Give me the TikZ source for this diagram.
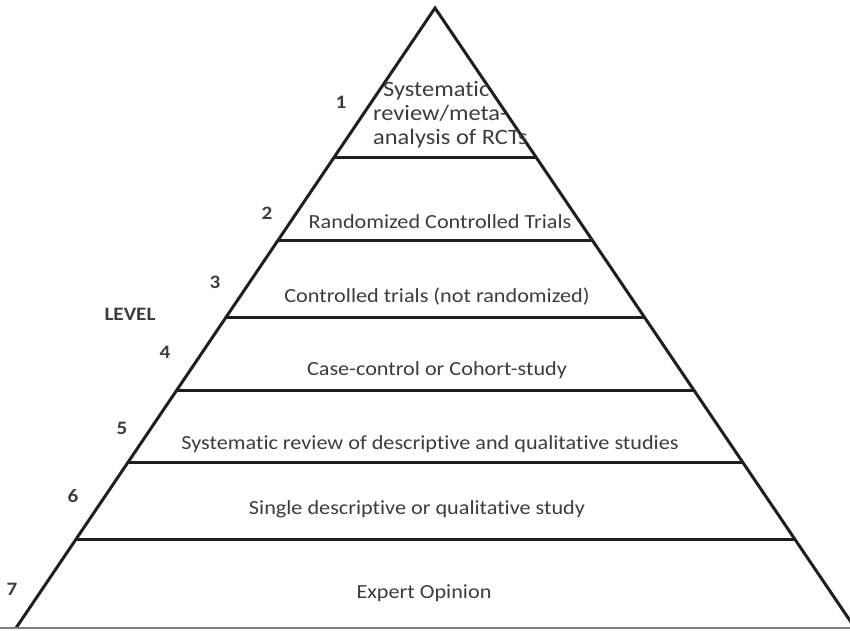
\documentclass[tikz,border=0pt]{standalone}
\usepackage{fontspec}
\setmainfont{Carlito}[FakeStretch=1.11, Ligatures=NoCommon]
\usetikzlibrary{calc}
\usetikzlibrary{positioning}
\definecolor{inkgrey}{HTML}{3C3C3C}
\tikzset{tierline/.style={line width=3pt,
                        draw=black!88,
                        line cap=butt
                        },
        tiertext/.style={text=inkgrey,
                        inner sep=0pt,
                        align=center,
                        font=\fontsize{20}{23}\selectfont
        },
        levelnum/.style={text=inkgrey,
                        inner sep=0pt,
                        font=\fontsize{19}{23}\selectfont\bfseries
        },
}

\begin{document}
\begin{tikzpicture}
    [x=1pt,y=-1pt]
    \useasboundingbox (0,0) rectangle (850,630);

    % PYRAMID OUTLINE
    \coordinate (apex) at (435,8);
    \coordinate (baseL) at (16,628);
    \coordinate (baseR) at (855,628);

    \draw[tierline, line join=miter] (baseL) -- (apex) -- (baseR);
    \draw[gray, line width=2pt] (0,628) -- (850,628);

    % TIER DIVIDERS
    \foreach \t/\n in {0.2419/A, 0.3742/B, 0.4984/C, 0.6177/D, 0.7323/E, 0.8565/F} {
        \coordinate (left\n) at ($(apex)!\t!(baseL)$);
        \coordinate (right\n) at ($(apex)!\t!(baseR)$);
        \draw[tierline] (left\n) -- (right\n);
    }

    % TIER TEXTS
    \node[tiertext, align=left, anchor=west, font=\fontsize{22}{24}\selectfont] (tierA) at (373,115)
        {\hspace*{10pt}Systematic\\review/meta-\\analysis of RCTs};
    \node[tiertext] (tierB) at (440,222) {Randomized Controlled Trials};
    \node[tiertext] (tierC) at (437,297) {Controlled trials (not randomized)};
    \node[tiertext] (tierD) at (437,370) {Case-control or Cohort-study};
    \node[tiertext] (tierE) at (430,444) {Systematic review of descriptive and qualitative studies};
    \node[tiertext] (tierF) at (417,509) {Single descriptive or qualitative study};
    \node[tiertext] (tierG) at (424,593) {Expert Opinion};

    % LEVEL NUMBERS
    \node[levelnum] (levelword) at (130,314) {LEVEL};
    \node[levelnum] (numA) at (341,102) {1};
    \node[levelnum] (numB) at (267,213) {2};
    \node[levelnum] (numC) at (215,282) {3};
    \node[levelnum] (numD) at (165,352) {4};
    \node[levelnum] (numE) at (122,428) {5};
    \node[levelnum] (numF) at (73,496) {6};
    \node[levelnum] (numG) at (12,589) {7};

\end{tikzpicture}
\end{document}
